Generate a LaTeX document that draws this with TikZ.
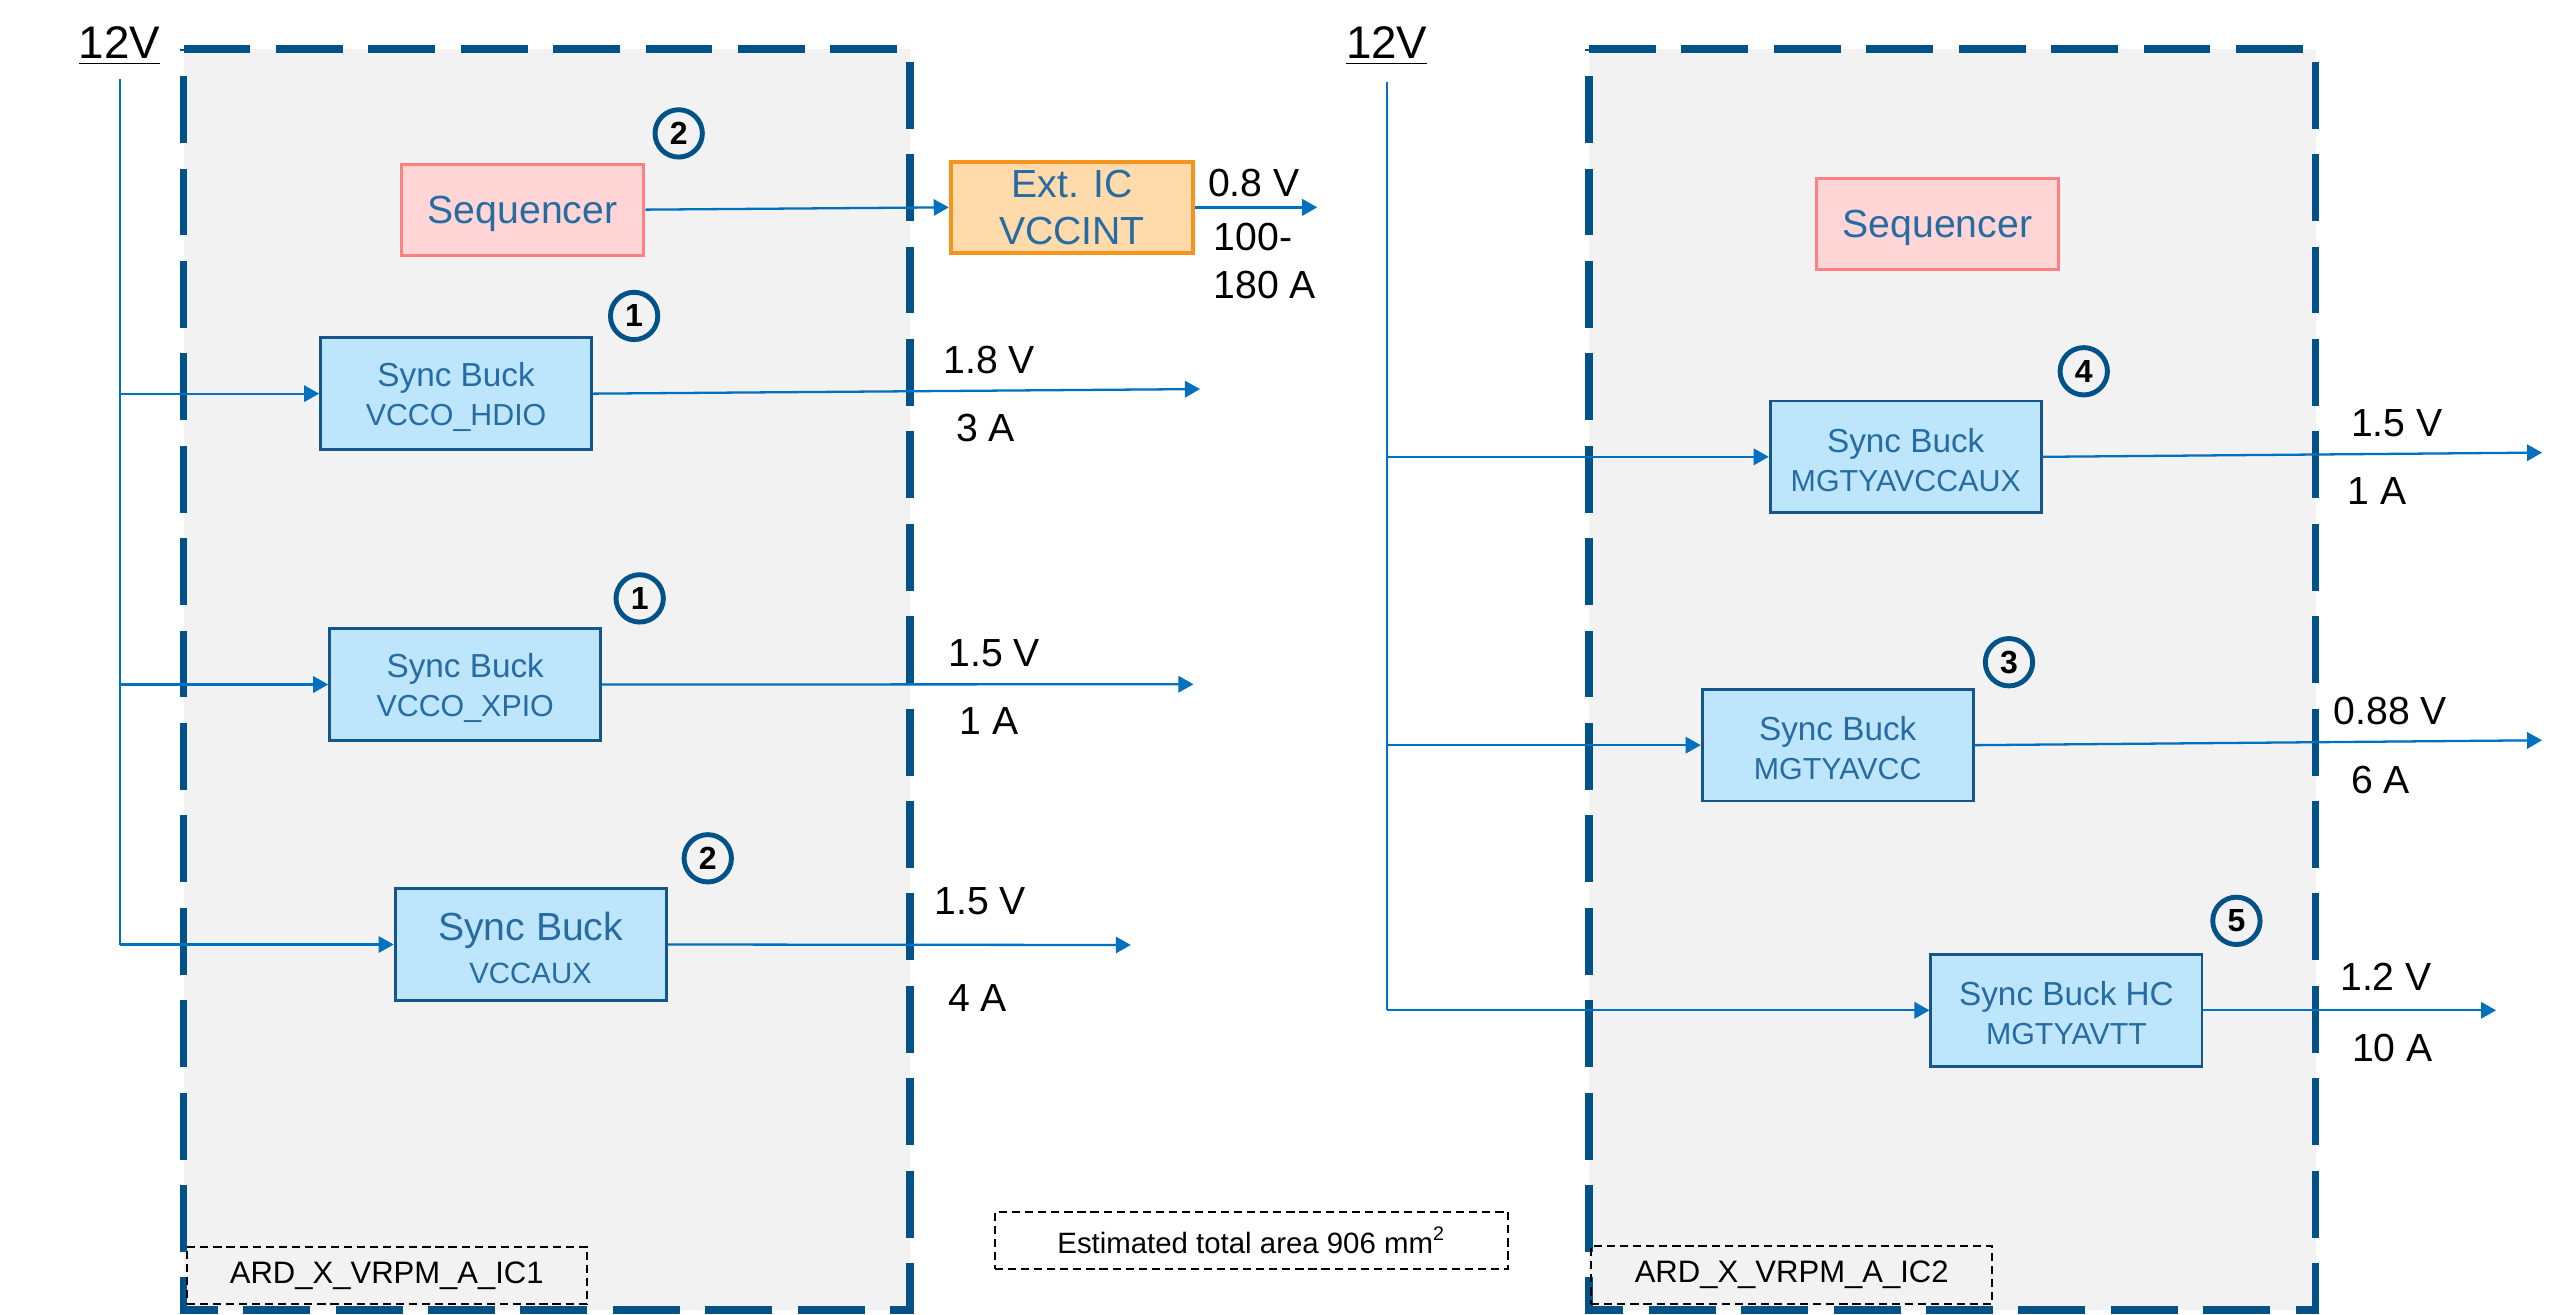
\documentclass[tikz,border=0pt]{standalone}
\usepackage{fontspec}
\setmainfont{Liberation Sans}
\usetikzlibrary{arrows.meta}
\definecolor{dashblue}{RGB}{0,82,137}
\definecolor{boxgray}{RGB}{242,242,242}
\definecolor{buckfill}{RGB}{189,229,252}
\definecolor{buckline}{RGB}{20,85,140}
\definecolor{txtblue}{RGB}{38,108,163}
\definecolor{seqfill}{RGB}{255,213,213}
\definecolor{seqline}{RGB}{255,128,128}
\definecolor{extfill}{RGB}{255,219,172}
\definecolor{extline}{RGB}{247,148,29}
\definecolor{wire}{RGB}{0,112,192}
\newcommand{\topstrut}[1]{\rule{0pt}{#1}}
\begin{document}
\begin{tikzpicture}[x=0.5pt,y=-0.5pt,
 region/.style={fill=boxgray, draw=dashblue, line width=2.2pt, dash pattern=on 20.5pt off 7.8pt},
 buck/.style={draw=buckline, line width=0.9pt, fill=buckfill, text=txtblue, minimum width=83pt, minimum height=34.2pt, inner sep=0pt, align=center, font=\fontsize{9.3}{12}\selectfont},
 seqbox/.style={draw=seqline, line width=0.9pt, fill=seqfill, text=txtblue, minimum width=74.3pt, minimum height=27.8pt, inner sep=0pt, text depth=0pt, font=\fontsize{12}{14.4}\selectfont},
 extbox/.style={draw=extline, line width=1.2pt, fill=extfill, text=txtblue, minimum width=74.3pt, minimum height=27.8pt, inner sep=0pt, align=center, font=\fontsize{12}{14.35}\selectfont},
 num/.style={circle, draw=dashblue, line width=1.5pt, minimum size=14.5pt, inner sep=0pt, font=\bfseries\fontsize{9.8}{10}\selectfont},
 val/.style={inner sep=0pt, font=\fontsize{12}{14.5}\selectfont},
 tag/.style={draw=black, line width=0.6pt, dash pattern=on 2.5pt off 1.5pt, inner sep=0pt, font=\fontsize{9.5}{11}\selectfont},
 rail/.style={draw=wire, line width=0.7pt},
 conn/.style={draw=wire, line width=0.7pt, -{Triangle[length=4.6pt,width=5pt]}},
 vin/.style={inner sep=0pt, font=\fontsize{14}{16}\selectfont}
]
\useasboundingbox (0,0) rectangle (1568,805.4);
\fill[white] (0,0) rectangle (1568,805.4);

% regions
\path[region] (112.4,30) -- (557.4,30) -- (557.4,802.4) -- (112.4,802.4) -- cycle;
\path[region] (973.3,30) -- (1418.3,30) -- (1418.3,802.4) -- (973.3,802.4) -- cycle;

% supply labels
\node[vin, anchor=base] (v12L) at (73.2,36) {\underline{12V}};
\node[vin, anchor=base] (v12R) at (849.4,36) {\underline{12V}};
\coordinate (railL) at (73.4,48.6);
\coordinate (railR) at (849.4,50.5);

% left blocks
\node[seqbox] (seqL) at (320.1,128.4) {Sequencer};
\node[extbox] (ext) at (656.6,127) {Ext. IC\\VCCINT};
\node[buck] (hdio) at (279.35,241.1) {{\fontsize{10.2}{12}\selectfont\topstrut{9.3pt}Sync Buck}\\VCCO\_HDIO};
\node[buck] (xpio) at (284.95,419.25) {{\fontsize{10.2}{12}\selectfont\topstrut{9.3pt}Sync Buck}\\VCCO\_XPIO};
\node[buck, font=\fontsize{9}{13.1}\selectfont] (aux) at (325,578.5) {{\fontsize{12}{13.1}\selectfont\topstrut{10.6pt}Sync Buck}\\VCCAUX};

% right blocks
\node[seqbox] (seqR) at (1186.65,137.3) {Sequencer};
\node[buck] (mgtaux) at (1167.25,279.8) {{\fontsize{10.2}{12}\selectfont\topstrut{9.3pt}Sync Buck}\\MGTYAVCCAUX};
\node[buck] (mgtavcc) at (1125.6,456.4) {{\fontsize{10.2}{12}\selectfont\topstrut{9.3pt}Sync Buck}\\MGTYAVCC};
\node[buck] (mgtavtt) at (1265.7,618.8) {{\fontsize{10.2}{12}\selectfont\topstrut{9.3pt}Sync Buck HC}\\MGTYAVTT};

% numbered markers
\node[num] (n2a) at (415.7,81.7) {2};
\node[num] (n1a) at (388.4,193.5) {1};
\node[num] (n1b) at (391.8,366.5) {1};
\node[num] (n2b) at (433.5,525.7) {2};
\node[num] (n4) at (1276.3,227.4) {4};
\node[num] (n3) at (1230.5,405.6) {3};
\node[num] (n5) at (1369.8,564) {5};

% rails
\draw[rail] (railL) -- (railL |- aux.west);
\draw[rail] (railR) -- (railR |- mgtavtt.west);

% inputs
\draw[conn] (railL |- hdio.west) -- (hdio.west);
\draw[conn] (railL |- xpio.west) -- (xpio.west);
\draw[conn] (railL |- aux.west) -- (aux.west);
\draw[conn] (railR |- mgtaux.west) -- (mgtaux.west);
\draw[conn] (railR |- mgtavcc.west) -- (mgtavcc.west);
\draw[conn] (railR |- mgtavtt.west) -- (mgtavtt.west);

% outputs
\coordinate (oExt) at (806.8,127);
\coordinate (oHdio) at (735,238.3);
\coordinate (oXpio) at (731,419.1);
\coordinate (oAux) at (692.6,578.8);
\coordinate (oMaux) at (1557,277.2);
\coordinate (oMavcc) at (1557,453.4);
\coordinate (oMavtt) at (1528.8,618.8);
\draw[conn] (seqL.east) -- (ext.west);
\draw[conn] (ext.east) -- (oExt);
\draw[conn] (hdio.east) -- (oHdio);
\draw[conn] (xpio.east) -- (oXpio);
\draw[conn] (aux.east) -- (oAux);
\draw[conn] (mgtaux.east) -- (oMaux);
\draw[conn] (mgtavcc.east) -- (oMavcc);
\draw[conn] (mgtavtt.east) -- (oMavtt);

% values
\node[val] (vExt) at (768,111.8) {0.8 V};
\node[val, anchor=west, align=left] (iExt) at (743,159.9) {100-\\180 A};
\node[val] (vHdio) at (605.8,220.5) {1.8 V};
\node[val] (iHdio) at (603.6,262) {3 A};
\node[val] (vXpio) at (609,400) {1.5 V};
\node[val] (iXpio) at (605.7,441.6) {1 A};
\node[val] (vAux) at (600.5,552) {1.5 V};
\node[val] (iAux) at (598.7,611) {4 A};
\node[val] (vMaux) at (1468,259) {1.5 V};
\node[val] (iMaux) at (1456,300.6) {1 A};
\node[val] (vMavcc) at (1464,435.7) {0.88 V};
\node[val] (iMavcc) at (1458,478) {6 A};
\node[val] (vMavtt) at (1461.4,598.5) {1.2 V};
\node[val] (iMavtt) at (1465.3,641.8) {10 A};

% tags
\node[tag, minimum width=122.5pt, minimum height=17.65pt] (tag1) at (236.9,781.25) {ARD\_X\_VRPM\_A\_IC1};
\node[tag, minimum width=122.8pt, minimum height=17.75pt] (tag2) at (1097.4,780.95) {ARD\_X\_VRPM\_A\_IC2};
\node[tag, fill=white, minimum width=157.15pt, minimum height=17.45pt, font=\fontsize{9}{11}\selectfont] (area) at (766.55,759.75) {Estimated total area 906 mm\textsuperscript{2}};
\end{tikzpicture}
\end{document}
